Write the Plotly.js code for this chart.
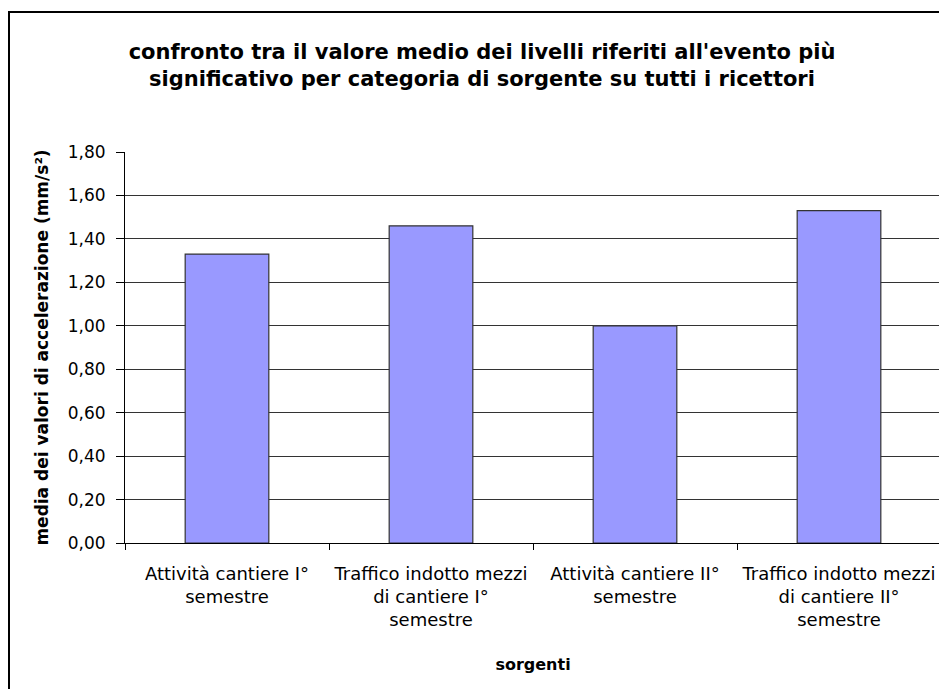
<!DOCTYPE html>
<html>
<head>
<meta charset="utf-8">
<script src="https://cdn.plot.ly/plotly-3.0.1.min.js"></script>
<style>
html, body { margin: 0; padding: 0; overflow: hidden; background: #fff; }
#chart { width: 941px; height: 689px; }
</style>
</head>
<body>
<div id="chart"></div>
<script>
// Data
const categories = [
  "Attività cantiere I°<br>semestre",
  "Traffico indotto mezzi<br>di cantiere I°<br>semestre",
  "Attività cantiere II°<br>semestre",
  "Traffico indotto mezzi<br>di cantiere II°<br>semestre"
];
const values = [1.33, 1.46, 1.00, 1.53];
const titleLines = [
  "confronto tra il valore medio dei livelli riferiti all'evento più",
  "significativo per categoria di sorgente su tutti i ricettori"
];
const yTitle = "media dei valori di accelerazione (mm/s²)";
const xTitle = "sorgenti";

const FONT = "DejaVu Sans, Verdana, sans-serif";

const trace = {
  type: "bar",
  x: categories,
  y: values,
  marker: { color: "#9999FF", line: { color: "#333333", width: 1.2 } },
  hoverinfo: "skip"
};

const layout = {
  width: 941,
  height: 689,
  margin: { l: 125, r: 0, t: 152, b: 146 },
  paper_bgcolor: "#ffffff",
  plot_bgcolor: "#ffffff",
  separators: ",.",
  bargap: 0.59,
  showlegend: false,
  font: { family: FONT, color: "#000000", size: 17 },
  title: {
    text: titleLines.join("<br>"),
    font: { family: FONT, size: 21, weight: "bold", color: "#000000" },
    xref: "container", x: 482 / 941, xanchor: "center",
    yref: "container", y: 1 - 59 / 689, yanchor: "top"
  },
  xaxis: {
    type: "category",
    showgrid: false,
    showline: true, linecolor: "#000000", linewidth: 1,
    ticks: "outside", tickson: "boundaries", ticklen: 6, tickcolor: "#000000",
    tickfont: { family: FONT, size: 18, color: "#000000" },
    ticklabelstandoff: 14,
    title: {
      text: xTitle,
      font: { family: FONT, size: 16, weight: "bold", color: "#000000" },
      standoff: 29
    }
  },
  yaxis: {
    range: [0, 1.8],
    dtick: 0.2,
    tick0: 0,
    tickformat: ".2f",
    showgrid: true, gridcolor: "#333333", gridwidth: 1,
    zeroline: false,
    showline: true, linecolor: "#000000", linewidth: 1,
    ticks: "outside", ticklen: 8, tickcolor: "#000000",
    tickfont: { family: FONT, size: 17, color: "#000000" },
    ticklabelstandoff: 7,
    title: {
      text: yTitle,
      font: { family: FONT, size: 17, weight: "bold", color: "#000000" },
      standoff: 14
    }
  },
  shapes: [{
    type: "rect", xref: "paper", yref: "paper",
    x0: (9 - 125) / 816, x1: 1.2,
    y0: -0.6, y1: (543 - 12) / 391,
    line: { color: "#000000", width: 2 },
    fillcolor: "rgba(0,0,0,0)",
    layer: "above"
  }]
};

Plotly.newPlot("chart", [trace], layout, { staticPlot: true, displayModeBar: false });
</script>
</body>
</html>
